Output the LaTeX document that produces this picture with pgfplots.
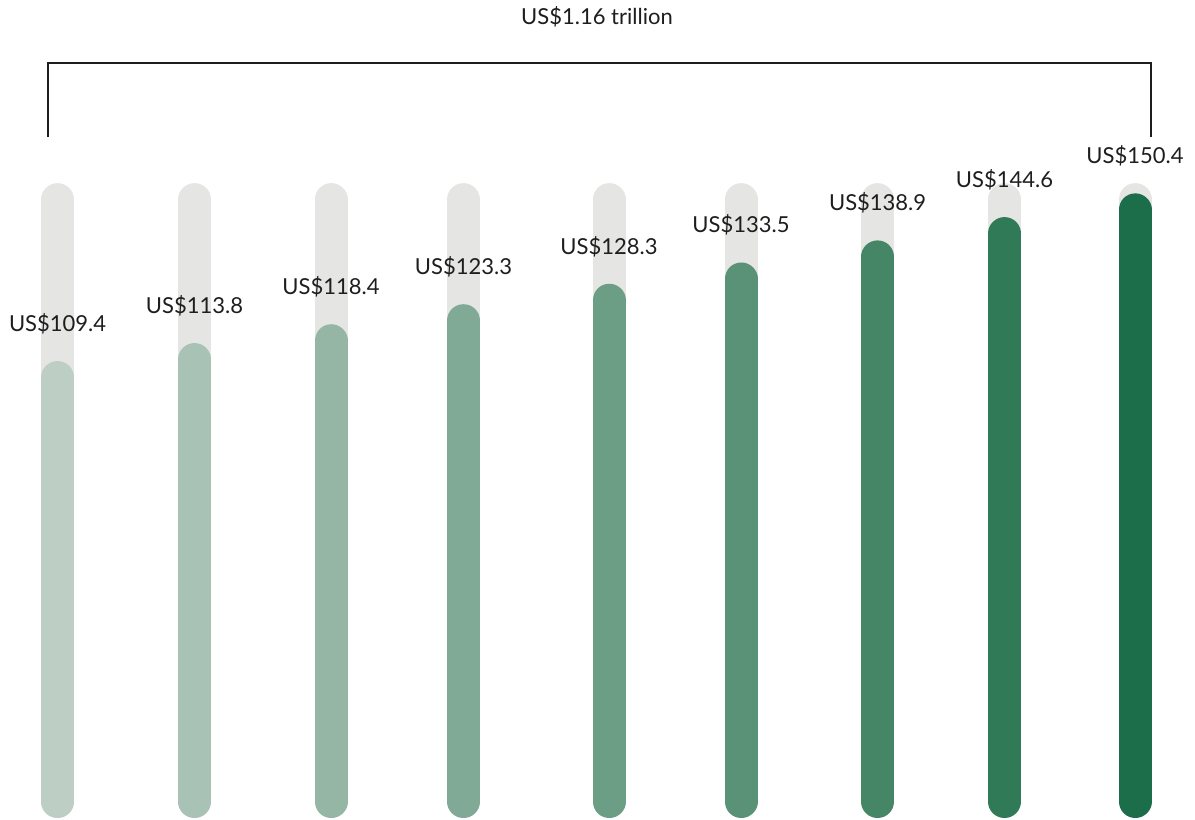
\documentclass[border=0pt]{standalone}
\usepackage{pgfplots}
\pgfplotsset{compat=1.18}
\usepackage{fontspec}
\setmainfont{Lato}

\definecolor{track}{RGB}{229,229,227}
\definecolor{txt}{RGB}{30,30,30}
\definecolor{c1}{RGB}{189,206,197}
\definecolor{c2}{RGB}{168,194,181}
\definecolor{c3}{RGB}{149,181,165}
\definecolor{c4}{RGB}{128,170,149}
\definecolor{c5}{RGB}{108,158,134}
\definecolor{c6}{RGB}{89,146,118}
\definecolor{c7}{RGB}{69,134,103}
\definecolor{c8}{RGB}{48,122,88}
\definecolor{c9}{RGB}{28,110,74}

\begin{document}
\begin{tikzpicture}
\begin{axis}[
    width=717pt, height=491.4pt, scale only axis,
    hide axis, clip=false,
    xmin=0, xmax=1195,
    ymin=1.467, ymax=201.71,
    every axis plot/.append style={line width=19.8pt, line cap=round},
  ]
  \path[draw=none] (rel axis cs:0,0) rectangle (rel axis cs:1,1);

  % grey tracks
  \addplot[draw=track] coordinates {(57.6,5.75) (57.6,152.9)};
  \addplot[draw=track] coordinates {(194.5,5.75) (194.5,152.9)};
  \addplot[draw=track] coordinates {(331,5.75) (331,152.9)};
  \addplot[draw=track] coordinates {(463.5,5.75) (463.5,152.9)};
  \addplot[draw=track] coordinates {(609,5.75) (609,152.9)};
  \addplot[draw=track] coordinates {(741,5.75) (741,152.9)};
  \addplot[draw=track] coordinates {(877.6,5.75) (877.6,152.9)};
  \addplot[draw=track] coordinates {(1004.5,5.75) (1004.5,152.9)};
  \addplot[draw=track] coordinates {(1135,5.75) (1135,152.9)};

  % values
  \addplot[draw=c1] coordinates {(57.6,5.75) (57.6,109.4)};
  \addplot[draw=c2] coordinates {(194.5,5.75) (194.5,113.8)};
  \addplot[draw=c3] coordinates {(331,5.75) (331,118.4)};
  \addplot[draw=c4] coordinates {(463.5,5.75) (463.5,123.3)};
  \addplot[draw=c5] coordinates {(609,5.75) (609,128.3)};
  \addplot[draw=c6] coordinates {(741,5.75) (741,133.5)};
  \addplot[draw=c7] coordinates {(877.6,5.75) (877.6,138.9)};
  \addplot[draw=c8] coordinates {(1004.5,5.75) (1004.5,144.6)};
  \addplot[draw=c9] coordinates {(1135,5.75) (1135,150.4)};

  \begin{scope}[every node/.style={anchor=base, yshift=27.6pt, text=txt, font=\fontsize{13.2}{16}\selectfont}]
    \node at (axis cs:57.6,109.4) {US\$109.4};
    \node at (axis cs:194.5,113.8) {US\$113.8};
    \node at (axis cs:331,118.4) {US\$118.4};
    \node at (axis cs:463.5,123.3) {US\$123.3};
    \node at (axis cs:609,128.3) {US\$128.3};
    \node at (axis cs:741,133.5) {US\$133.5};
    \node at (axis cs:877.6,138.9) {US\$138.9};
    \node at (axis cs:1004.5,144.6) {US\$144.6};
    \node at (axis cs:1135,150.4) {US\$150.4};
  \end{scope}

  % total bracket
  \draw[txt, line width=1.2pt] (axis cs:48,168.2) -- (axis cs:48,186.3) -- (axis cs:1151,186.3) -- (axis cs:1151,168.2);
  \node[text=txt, font=\fontsize{13.2}{16}\selectfont] at (axis cs:597,197.6) {US\$1.16 trillion};
\end{axis}
\end{tikzpicture}
\end{document}
